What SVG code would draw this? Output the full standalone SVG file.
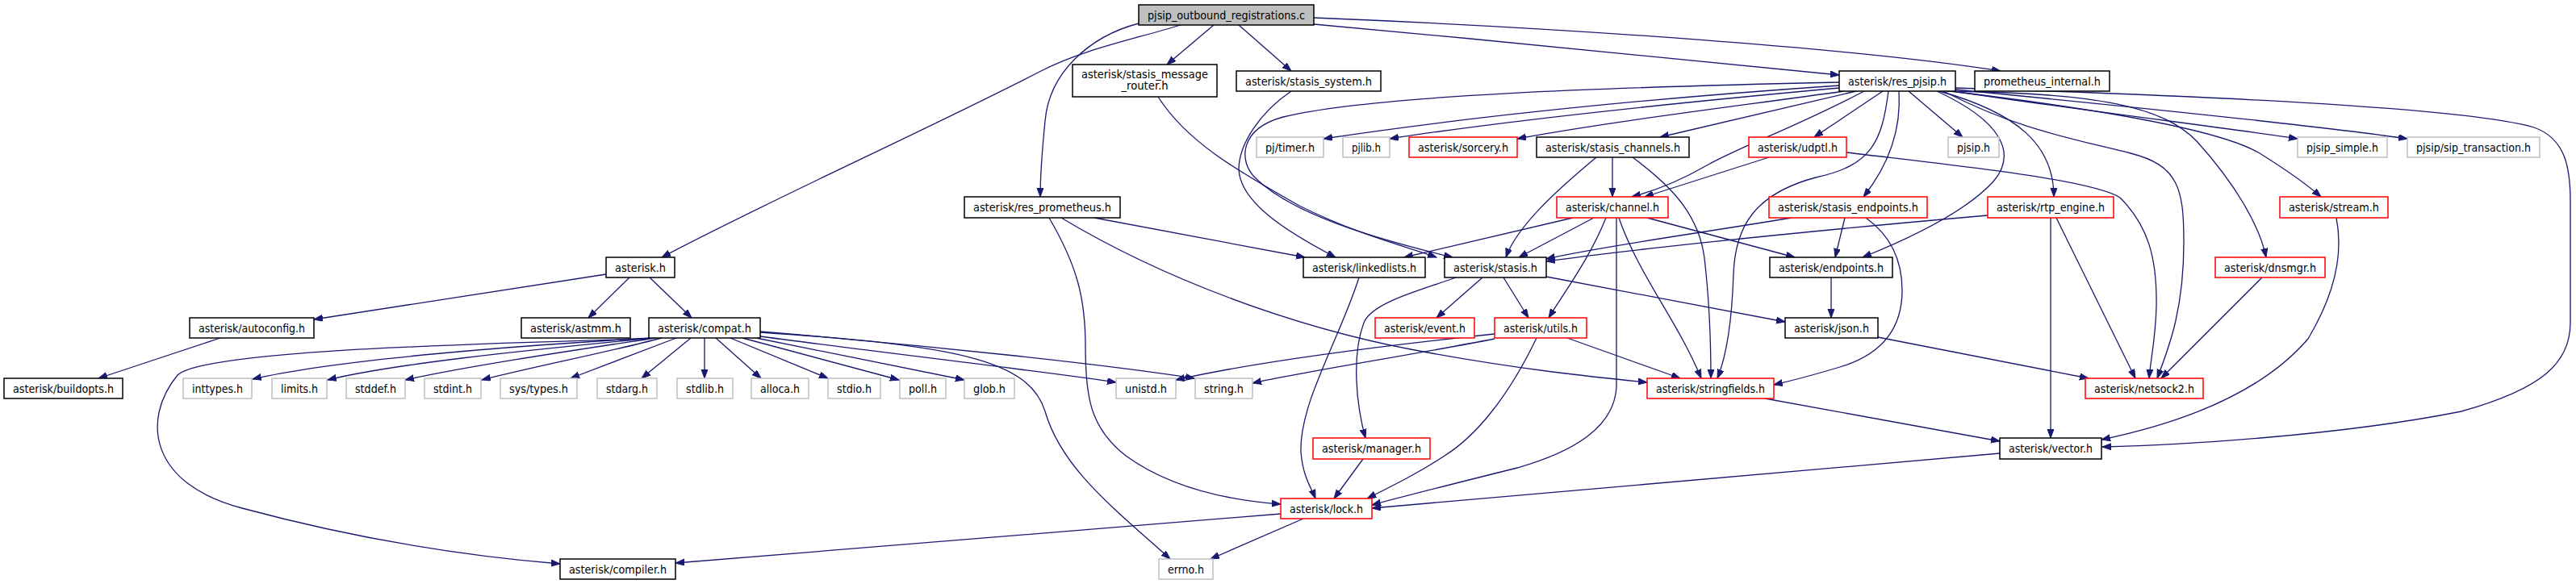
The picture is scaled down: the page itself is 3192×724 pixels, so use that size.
<svg xmlns="http://www.w3.org/2000/svg" width="3192" height="724" viewBox="0 0 3192 724">
<style>
rect{fill:#fff;stroke-width:1.5}
.b rect{stroke:#000}
.r rect{stroke:#ff0000}
.g rect{stroke:#bfbfbf}
.root rect{fill:#bfbfbf;stroke:#000}
text{font-family:"DejaVu Sans Condensed","DejaVu Sans",sans-serif;font-size:14px;fill:#000;text-anchor:middle}
#edges path{fill:none;stroke:#191970;stroke-width:1.3;marker-end:url(#a)}
</style>
<defs>
<marker id="a" markerUnits="userSpaceOnUse" markerWidth="12" markerHeight="9" refX="11" refY="4" orient="auto"><path d="M0,0 L11,4 L0,8 z" fill="#191970" stroke="#191970" stroke-width="1"/></marker>
</defs>
<rect x="0" y="0" width="3192" height="724" style="fill:#fff;stroke:none"/>
<g id="edges">
<path d="M1463,31 C1400,50 1340,62 1290,88 C1150,160 950,250 820,319"/>
<path d="M1411,29 C1350,45 1300,90 1295,150 C1290,200 1289,225 1289,244"/>
<path d="M1504,31 L1446,80"/>
<path d="M1535,31 L1600,88"/>
<path d="M1628,30 C1850,50 2100,75 2279,93"/>
<path d="M1628,22 C1950,35 2300,60 2479,88"/>
<path d="M751,340 L389,396"/>
<path d="M780,344 L729,394"/>
<path d="M805,344 L857,394"/>
<path d="M273,419 L122,469"/>
<path d="M806,419 C650,428 420,445 313,470"/>
<path d="M808,419 C700,430 500,448 406,471"/>
<path d="M812,419 C720,433 590,452 502,471"/>
<path d="M820,419 C760,435 660,455 597,471"/>
<path d="M838,419 L707,469"/>
<path d="M856,419 L795,469"/>
<path d="M873,419 L873,469"/>
<path d="M887,419 L943,469"/>
<path d="M905,419 L1026,469"/>
<path d="M920,419 L1114,471"/>
<path d="M937,419 L1195,471"/>
<path d="M942,417 C1100,438 1290,460 1383,474"/>
<path d="M942,411 C1150,428 1370,452 1480,469"/>
<path d="M942,412 C1180,428 1275,445 1295,510 C1315,580 1380,630 1450,693"/>
<path d="M804,420 C500,428 250,438 220,465 C175,520 185,600 300,630 C430,665 560,688 694,699"/>
<path d="M1356,270 L1617,319"/>
<path d="M1315,270 C1440,345 1600,405 1753,434 C1880,458 1980,468 2041,474"/>
<path d="M1300,270 C1335,330 1345,370 1345,430 C1345,490 1350,530 1395,565 C1450,605 1520,620 1587,625"/>
<path d="M1435,120 C1470,175 1530,210 1610,255 C1680,290 1740,305 1780,319"/>
<path d="M1600,113 C1560,140 1535,180 1535,210 C1537,250 1590,285 1655,319"/>
<path d="M2279,102 C2000,108 1700,118 1590,145 C1535,160 1535,200 1555,220 C1600,265 1700,295 1800,319"/>
<path d="M2279,106 C2000,125 1800,148 1640,172"/>
<path d="M2279,109 C2050,130 1850,152 1722,172"/>
<path d="M2285,113 C2150,132 2000,150 1880,172"/>
<path d="M2300,113 L2057,170"/>
<path d="M2310,113 C2220,160 2160,180 2115,205 C2075,228 2045,238 2022,244"/>
<path d="M2333,113 L2248,170"/>
<path d="M2353,113 C2356,160 2340,205 2309,244"/>
<path d="M2340,113 C2332,175 2320,205 2250,220 C2175,240 2150,280 2148,340 C2146,400 2140,440 2128,469"/>
<path d="M2400,113 C2480,150 2500,190 2470,225 C2440,258 2380,290 2308,319"/>
<path d="M2365,113 L2432,170"/>
<path d="M2403,113 C2500,140 2545,180 2545,244"/>
<path d="M2408,113 C2500,160 2560,170 2640,190 C2700,205 2706,235 2706,300 C2706,380 2690,425 2673,469"/>
<path d="M2412,113 C2600,115 2680,132 2722,175 C2770,228 2800,280 2808,319"/>
<path d="M2416,113 C2600,135 2750,160 2800,190 C2840,215 2860,230 2876,244"/>
<path d="M2420,113 C2600,140 2750,157 2847,172"/>
<path d="M2423,111 C2700,138 2900,160 2983,172"/>
<path d="M2423,109 C2700,118 3050,132 3140,158 C3180,172 3185,210 3185,250 L3185,400 C3185,450 3150,482 3050,510 C2900,540 2700,552 2605,554"/>
<path d="M1978,195 C1930,235 1880,280 1866,319"/>
<path d="M1998,195 L1998,244"/>
<path d="M2023,195 C2070,230 2105,265 2112,320 C2119,380 2120,430 2120,469"/>
<path d="M2192,195 L2038,244"/>
<path d="M2288,189 C2420,205 2590,222 2627,245 C2662,280 2673,320 2672,380 C2671,420 2665,445 2663,469"/>
<path d="M1949,270 L1740,319"/>
<path d="M1975,270 L1882,319"/>
<path d="M1990,270 C1970,320 1940,360 1919,394"/>
<path d="M2003,270 L2003,480 C2000,530 1950,560 1880,580 C1800,600 1740,615 1700,626"/>
<path d="M2006,270 C2030,340 2080,400 2108,469"/>
<path d="M2041,270 L2224,319"/>
<path d="M2220,270 C2100,290 1980,306 1916,321"/>
<path d="M2286,270 L2274,319"/>
<path d="M2312,270 C2340,290 2357,320 2357,360 C2357,410 2330,440 2280,455 C2240,467 2220,472 2198,477"/>
<path d="M2463,267 C2200,290 2000,312 1916,324"/>
<path d="M2541,270 L2541,543"/>
<path d="M2548,270 L2646,469"/>
<path d="M2895,270 C2905,320 2890,370 2860,420 C2800,490 2700,525 2604,545"/>
<path d="M2803,344 L2678,469"/>
<path d="M1684,344 C1660,420 1610,500 1612,560 C1614,590 1625,605 1630,618"/>
<path d="M1804,344 C1760,360 1700,375 1690,400 C1675,440 1680,500 1692,543"/>
<path d="M1837,344 L1780,394"/>
<path d="M1863,344 L1894,394"/>
<path d="M1916,343 L2212,399"/>
<path d="M1852,414 C1700,430 1550,450 1457,471"/>
<path d="M1852,420 C1750,440 1620,460 1552,475"/>
<path d="M1942,419 L2082,469"/>
<path d="M1904,419 C1870,490 1830,540 1790,565 C1760,585 1730,600 1694,618"/>
<path d="M2269,344 L2269,394"/>
<path d="M2327,418 L2588,469"/>
<path d="M2187,494 L2478,547"/>
<path d="M1689,569 L1653,618"/>
<path d="M2478,562 L1700,630"/>
<path d="M1587,637 L837,698"/>
<path d="M1615,643 L1500,693"/>
</g>
<g id="n_root" class="root"><rect x="1411" y="6" width="217" height="25"/><text x="1519.5" y="24" textLength="195" lengthAdjust="spacingAndGlyphs">pjsip_outbound_registrations.c</text></g>
<g id="n_asterisk" class="b"><rect x="751" y="319" width="85" height="25"/><text x="793.5" y="337" textLength="63" lengthAdjust="spacingAndGlyphs">asterisk.h</text></g>
<g id="n_res_prometheus" class="b"><rect x="1195" y="244" width="193" height="26"/><text x="1291.5" y="262" textLength="171" lengthAdjust="spacingAndGlyphs">asterisk/res_prometheus.h</text></g>
<g id="n_stasis_message_router" class="b"><rect x="1329" y="80" width="179" height="40"/><text x="1418.5" y="97" textLength="157" lengthAdjust="spacingAndGlyphs">asterisk/stasis_message</text><text x="1418.5" y="111" textLength="58" lengthAdjust="spacingAndGlyphs">_router.h</text></g>
<g id="n_stasis_system" class="b"><rect x="1532" y="88" width="179" height="25"/><text x="1621.5" y="106" textLength="157" lengthAdjust="spacingAndGlyphs">asterisk/stasis_system.h</text></g>
<g id="n_res_pjsip" class="b"><rect x="2279" y="88" width="144" height="25"/><text x="2351" y="106" textLength="122" lengthAdjust="spacingAndGlyphs">asterisk/res_pjsip.h</text></g>
<g id="n_prometheus_internal" class="b"><rect x="2447" y="88" width="167" height="25"/><text x="2530.5" y="106" textLength="145" lengthAdjust="spacingAndGlyphs">prometheus_internal.h</text></g>
<g id="n_pj_timer" class="g"><rect x="1557" y="170" width="83" height="25"/><text x="1598.5" y="188" textLength="61" lengthAdjust="spacingAndGlyphs">pj/timer.h</text></g>
<g id="n_pjlib" class="g"><rect x="1664" y="170" width="58" height="25"/><text x="1693" y="188" textLength="36" lengthAdjust="spacingAndGlyphs">pjlib.h</text></g>
<g id="n_sorcery" class="r"><rect x="1746" y="170" width="134" height="25"/><text x="1813" y="188" textLength="112" lengthAdjust="spacingAndGlyphs">asterisk/sorcery.h</text></g>
<g id="n_stasis_channels" class="b"><rect x="1904" y="170" width="189" height="25"/><text x="1998.5" y="188" textLength="167" lengthAdjust="spacingAndGlyphs">asterisk/stasis_channels.h</text></g>
<g id="n_udptl" class="r"><rect x="2167" y="170" width="121" height="25"/><text x="2227.5" y="188" textLength="99" lengthAdjust="spacingAndGlyphs">asterisk/udptl.h</text></g>
<g id="n_pjsip" class="g"><rect x="2414" y="170" width="63" height="25"/><text x="2445.5" y="188" textLength="41" lengthAdjust="spacingAndGlyphs">pjsip.h</text></g>
<g id="n_pjsip_simple" class="g"><rect x="2847" y="170" width="111" height="25"/><text x="2902.5" y="188" textLength="89" lengthAdjust="spacingAndGlyphs">pjsip_simple.h</text></g>
<g id="n_sip_transaction" class="g"><rect x="2983" y="170" width="164" height="25"/><text x="3065" y="188" textLength="142" lengthAdjust="spacingAndGlyphs">pjsip/sip_transaction.h</text></g>
<g id="n_channel" class="r"><rect x="1929" y="244" width="138" height="26"/><text x="1998" y="262" textLength="116" lengthAdjust="spacingAndGlyphs">asterisk/channel.h</text></g>
<g id="n_stasis_endpoints" class="r"><rect x="2192" y="244" width="196" height="26"/><text x="2290" y="262" textLength="174" lengthAdjust="spacingAndGlyphs">asterisk/stasis_endpoints.h</text></g>
<g id="n_rtp_engine" class="r"><rect x="2463" y="244" width="156" height="26"/><text x="2541" y="262" textLength="134" lengthAdjust="spacingAndGlyphs">asterisk/rtp_engine.h</text></g>
<g id="n_stream" class="r"><rect x="2825" y="244" width="134" height="26"/><text x="2892" y="262" textLength="112" lengthAdjust="spacingAndGlyphs">asterisk/stream.h</text></g>
<g id="n_linkedlists" class="b"><rect x="1615" y="319" width="151" height="25"/><text x="1690.5" y="337" textLength="129" lengthAdjust="spacingAndGlyphs">asterisk/linkedlists.h</text></g>
<g id="n_stasis" class="b"><rect x="1790" y="319" width="126" height="25"/><text x="1853" y="337" textLength="104" lengthAdjust="spacingAndGlyphs">asterisk/stasis.h</text></g>
<g id="n_endpoints" class="b"><rect x="2193" y="319" width="152" height="25"/><text x="2269" y="337" textLength="130" lengthAdjust="spacingAndGlyphs">asterisk/endpoints.h</text></g>
<g id="n_dnsmgr" class="r"><rect x="2745" y="319" width="136" height="25"/><text x="2813" y="337" textLength="114" lengthAdjust="spacingAndGlyphs">asterisk/dnsmgr.h</text></g>
<g id="n_autoconfig" class="b"><rect x="235" y="394" width="154" height="25"/><text x="312" y="412" textLength="132" lengthAdjust="spacingAndGlyphs">asterisk/autoconfig.h</text></g>
<g id="n_astmm" class="b"><rect x="646" y="394" width="135" height="25"/><text x="713.5" y="412" textLength="113" lengthAdjust="spacingAndGlyphs">asterisk/astmm.h</text></g>
<g id="n_compat" class="b"><rect x="804" y="394" width="138" height="25"/><text x="873" y="412" textLength="116" lengthAdjust="spacingAndGlyphs">asterisk/compat.h</text></g>
<g id="n_event" class="r"><rect x="1704" y="394" width="123" height="25"/><text x="1765.5" y="412" textLength="101" lengthAdjust="spacingAndGlyphs">asterisk/event.h</text></g>
<g id="n_utils" class="r"><rect x="1852" y="394" width="114" height="25"/><text x="1909" y="412" textLength="92" lengthAdjust="spacingAndGlyphs">asterisk/utils.h</text></g>
<g id="n_json" class="b"><rect x="2212" y="394" width="115" height="25"/><text x="2269.5" y="412" textLength="93" lengthAdjust="spacingAndGlyphs">asterisk/json.h</text></g>
<g id="n_buildopts" class="b"><rect x="5" y="469" width="147" height="25"/><text x="78.5" y="487" textLength="125" lengthAdjust="spacingAndGlyphs">asterisk/buildopts.h</text></g>
<g id="n_inttypes" class="g"><rect x="227" y="469" width="85" height="25"/><text x="269.5" y="487" textLength="63" lengthAdjust="spacingAndGlyphs">inttypes.h</text></g>
<g id="n_limits" class="g"><rect x="337" y="469" width="68" height="25"/><text x="371" y="487" textLength="46" lengthAdjust="spacingAndGlyphs">limits.h</text></g>
<g id="n_stddef" class="g"><rect x="429" y="469" width="73" height="25"/><text x="465.5" y="487" textLength="51" lengthAdjust="spacingAndGlyphs">stddef.h</text></g>
<g id="n_stdint" class="g"><rect x="526" y="469" width="70" height="25"/><text x="561" y="487" textLength="48" lengthAdjust="spacingAndGlyphs">stdint.h</text></g>
<g id="n_sys_types" class="g"><rect x="620" y="469" width="95" height="25"/><text x="667.5" y="487" textLength="73" lengthAdjust="spacingAndGlyphs">sys/types.h</text></g>
<g id="n_stdarg" class="g"><rect x="740" y="469" width="74" height="25"/><text x="777" y="487" textLength="52" lengthAdjust="spacingAndGlyphs">stdarg.h</text></g>
<g id="n_stdlib" class="g"><rect x="839" y="469" width="69" height="25"/><text x="873.5" y="487" textLength="47" lengthAdjust="spacingAndGlyphs">stdlib.h</text></g>
<g id="n_alloca" class="g"><rect x="931" y="469" width="71" height="25"/><text x="966.5" y="487" textLength="49" lengthAdjust="spacingAndGlyphs">alloca.h</text></g>
<g id="n_stdio" class="g"><rect x="1026" y="469" width="65" height="25"/><text x="1058.5" y="487" textLength="43" lengthAdjust="spacingAndGlyphs">stdio.h</text></g>
<g id="n_poll" class="g"><rect x="1115" y="469" width="57" height="25"/><text x="1143.5" y="487" textLength="35" lengthAdjust="spacingAndGlyphs">poll.h</text></g>
<g id="n_glob" class="g"><rect x="1195" y="469" width="62" height="25"/><text x="1226" y="487" textLength="40" lengthAdjust="spacingAndGlyphs">glob.h</text></g>
<g id="n_unistd" class="g"><rect x="1383" y="469" width="74" height="25"/><text x="1420" y="487" textLength="52" lengthAdjust="spacingAndGlyphs">unistd.h</text></g>
<g id="n_string" class="g"><rect x="1481" y="469" width="71" height="25"/><text x="1516.5" y="487" textLength="49" lengthAdjust="spacingAndGlyphs">string.h</text></g>
<g id="n_stringfields" class="r"><rect x="2041" y="469" width="157" height="25"/><text x="2119.5" y="487" textLength="135" lengthAdjust="spacingAndGlyphs">asterisk/stringfields.h</text></g>
<g id="n_netsock2" class="r"><rect x="2584" y="469" width="146" height="25"/><text x="2657" y="487" textLength="124" lengthAdjust="spacingAndGlyphs">asterisk/netsock2.h</text></g>
<g id="n_manager" class="r"><rect x="1627" y="543" width="145" height="26"/><text x="1699.5" y="561" textLength="123" lengthAdjust="spacingAndGlyphs">asterisk/manager.h</text></g>
<g id="n_vector" class="b"><rect x="2478" y="543" width="126" height="26"/><text x="2541" y="561" textLength="104" lengthAdjust="spacingAndGlyphs">asterisk/vector.h</text></g>
<g id="n_lock" class="r"><rect x="1587" y="618" width="113" height="25"/><text x="1643.5" y="636" textLength="91" lengthAdjust="spacingAndGlyphs">asterisk/lock.h</text></g>
<g id="n_compiler" class="b"><rect x="694" y="693" width="143" height="25"/><text x="765.5" y="711" textLength="121" lengthAdjust="spacingAndGlyphs">asterisk/compiler.h</text></g>
<g id="n_errno" class="g"><rect x="1436" y="693" width="67" height="25"/><text x="1469.5" y="711" textLength="45" lengthAdjust="spacingAndGlyphs">errno.h</text></g>
</svg>
